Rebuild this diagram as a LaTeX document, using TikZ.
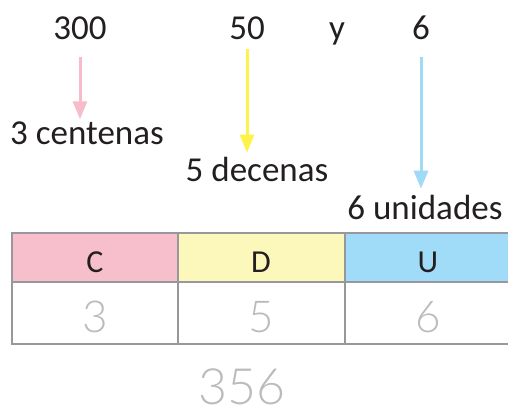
\documentclass[tikz,border=0pt]{standalone}
\usepackage{fontspec}
\setmainfont{Carlito}
\newfontfamily\lightfont{Lato Light}
\usetikzlibrary{arrows.meta,positioning}

\definecolor{cpink}{HTML}{F7BFCC}
\definecolor{cyellow}{HTML}{FCF8BC}
\definecolor{cblue}{HTML}{A0DCF8}
\definecolor{apink}{HTML}{F6BCCA}
\definecolor{ayellow}{HTML}{FFF24A}
\definecolor{ablue}{HTML}{9FDAF6}
\definecolor{rule}{HTML}{98989C}
\definecolor{digit}{HTML}{BBBBBF}
\definecolor{ink}{HTML}{231F20}

\begin{document}
\begin{tikzpicture}[x=0.5pt,y=-0.5pt,
    lbl/.style={anchor=base,inner sep=0pt,outer sep=0pt,text=ink,
      font=\fontsize{17.5}{20}\selectfont},
    head/.style={lbl,font=\fontsize{16}{19}\selectfont},
    val/.style={anchor=base,inner sep=0pt,text=digit,
      font=\lightfont\fontsize{22}{26}\selectfont},
    arr/.style={line width=1.5pt,-{Triangle[length=9pt,width=7pt]},
      shorten <=8.5pt}]
  \useasboundingbox (0,0) rectangle (508,411);

  % numbers
  \node[lbl] (n300) at (80,40) {300};
  \node[lbl] (n50) at (247,40) {50};
  \node[lbl] (ny) at (337,40) {y};
  \node[lbl] (n6) at (421,40) {6};

  % names
  \node[lbl] (cen) at (87,145) {3 centenas};
  \node[lbl] (dec) at (257,182) {5 decenas};
  \node[lbl] (uni) at (425,220) {6 unidades};

  \draw[arr,apink,shorten >=1.5pt] (n300.south) -- (n300.south |- cen.north);
  \draw[arr,ayellow,shorten <=4.5pt,shorten >=2.5pt] (n50.south) -- (n50.south |- dec.north);
  \draw[arr,ablue,shorten >=3.5pt] (n6.south) -- (n6.south |- uni.north);

  % table
  \fill[cpink] (12,233) rectangle (178,282);
  \fill[cyellow] (178,233) rectangle (345,282);
  \fill[cblue] (345,233) rectangle (508,282);
  \draw[rule,line width=1.2pt] (508,233) -- (12,233) -- (12,344) -- (508,344)
    (12,282) -- (508,282) (178,233) -- (178,344) (345,233) -- (345,344);

  \node[head] (hc) at (95,272) {C};
  \node[head] (hd) at (261,272) {D};
  \node[head] (hu) at (428,272) {U};
  \node[val] (v3) at (95,332) {3};
  \node[val] (v5) at (261,332) {5};
  \node[val] (v6) at (428,332) {6};

  \node[val,font=\lightfont\fontsize{25}{30}\selectfont] (total) at (242,404) {356};
\end{tikzpicture}
\end{document}
